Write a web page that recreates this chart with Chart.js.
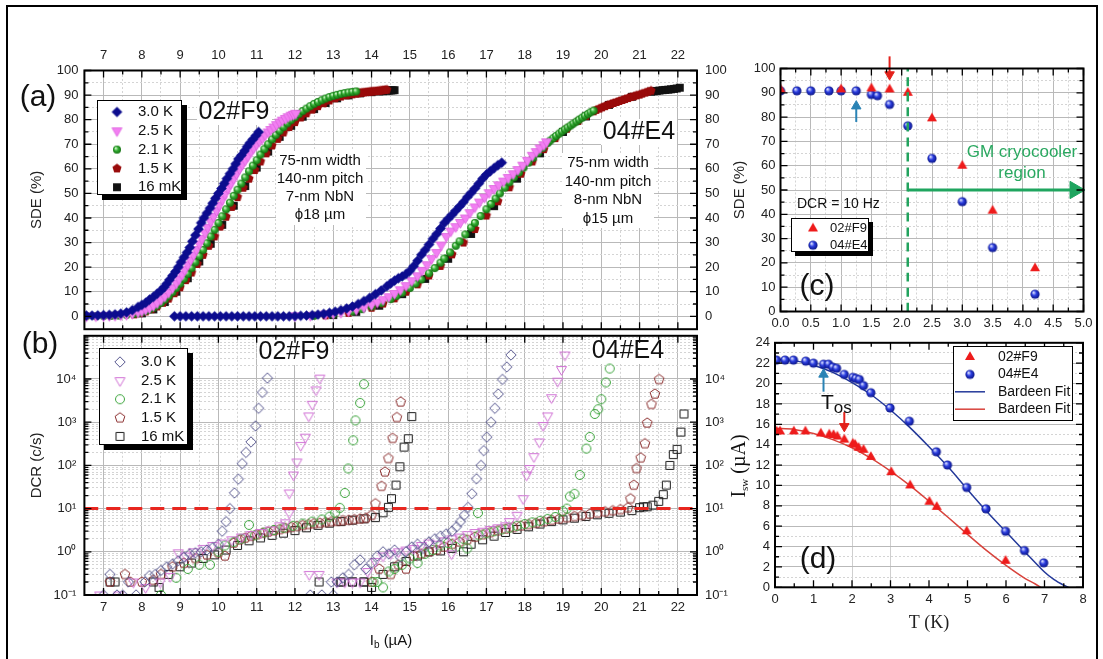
<!DOCTYPE html>
<html>
<head>
<meta charset="utf-8">
<script src="https://cdn.jsdelivr.net/npm/chart.js@4.4.1/dist/chart.umd.min.js"></script>
<style>
  body { margin: 0; background: #fff; width: 1103px; height: 659px; overflow: hidden; position: relative; }
  canvas { position: absolute; }
  #frame { position: absolute; left: 6px; top: 5px; width: 1088px; height: 680px; border: 2px solid #000; }
</style>
</head>
<body>
<div id="frame"></div>
<canvas id="ca" width="760" height="345" style="left:0px;top:0px"></canvas>
<canvas id="cb" width="760" height="339" style="left:0px;top:320px"></canvas>
<canvas id="cc" width="383" height="340" style="left:720px;top:0px"></canvas>
<canvas id="cd" width="383" height="329" style="left:720px;top:330px"></canvas>
<script>
const FONT = '"Liberation Sans", Arial, sans-serif';
const SERIF = '"Liberation Serif", "Times New Roman", serif';

// ---------- (a) SDE vs bias current, [Ib (uA), SDE (%)] ----------
const sdeF9_30K = [[6.55,0.3],[6.7,0.3],[6.85,0.4],[7.0,0.5],[7.15,0.6],[7.3,0.8],[7.45,1.1],[7.6,1.6],[7.75,2.5],[7.9,3.8],[8.0,4.6],[8.1,5.5],[8.2,6.8],[8.3,7.9],[8.4,9.2],[8.5,10.5],[8.58,11.8],[8.65,13.2],[8.72,14.8],[8.8,16.5],[8.88,18.2],[8.95,20],[9.02,22],[9.1,24],[9.18,26],[9.25,28],[9.32,30.5],[9.4,33],[9.48,35.5],[9.55,38],[9.62,40],[9.7,42],[9.78,44],[9.85,46],[9.92,48],[10.0,50],[10.08,52],[10.15,54],[10.22,56],[10.3,58],[10.38,60],[10.45,62],[10.52,64],[10.6,65.5],[10.68,67.3],[10.75,69],[10.82,70.5],[10.9,72],[10.98,73.5],[11.05,75]];
const sdeF9_25K = [[6.55,0.1],[6.8,0.15],[7.0,0.2],[7.15,0.3],[7.3,0.4],[7.45,0.6],[7.6,0.8],[7.75,1.2],[7.9,1.7],[8.0,2.2],[8.1,2.8],[8.2,3.5],[8.3,4.4],[8.4,5.5],[8.5,6.8],[8.6,8.2],[8.7,9.8],[8.8,11.6],[8.9,13.5],[8.97,15.2],[9.05,17],[9.12,19],[9.2,21],[9.27,23],[9.35,25],[9.42,27.2],[9.5,29.5],[9.57,31.7],[9.65,34],[9.72,36.2],[9.8,38.5],[9.87,40.7],[9.95,43],[10.02,45.2],[10.1,47.5],[10.17,49.7],[10.25,52],[10.32,54],[10.4,56],[10.47,58],[10.55,60],[10.62,61.8],[10.7,63.5],[10.77,65.2],[10.85,67],[10.92,68.5],[11.0,70],[11.07,71.3],[11.15,72.5],[11.22,73.8],[11.3,75],[11.37,76],[11.45,77],[11.52,78],[11.6,79],[11.67,79.8],[11.75,80.5],[11.82,81.2],[11.9,81.8],[11.96,82.2],[12.02,82.6]];
const sdeF9_21K = [[6.55,0.05],[6.8,0.08],[7.0,0.1],[7.2,0.2],[7.4,0.3],[7.6,0.6],[7.8,1],[7.9,1.3],[8.0,1.7],[8.1,2.2],[8.2,2.8],[8.3,3.5],[8.4,4.4],[8.5,5.5],[8.6,6.8],[8.7,8.2],[8.8,9.8],[8.9,11.5],[9.0,13.3],[9.1,15.3],[9.2,17.3],[9.3,19.6],[9.4,22],[9.5,24.5],[9.6,27],[9.7,29.7],[9.8,32.5],[9.9,35.2],[10.0,38],[10.1,40.7],[10.2,43.5],[10.3,46.2],[10.4,49],[10.5,51.5],[10.6,54],[10.7,56.5],[10.8,59],[10.9,61.3],[11.0,63.5],[11.1,65.8],[11.2,68],[11.3,70],[11.4,72],[11.5,73.8],[11.6,75.5],[11.7,77],[11.8,78.5],[11.9,79.8],[12.0,81],[12.1,82.3],[12.2,83.5],[12.3,84.5],[12.4,85.5],[12.5,86.4],[12.6,87.2],[12.7,87.9],[12.8,88.6],[12.9,89.2],[13.0,89.7],[13.1,90.1],[13.2,90.5],[13.3,90.8],[13.4,91.1],[13.5,91.3],[13.6,91.5]];
const sdeF9_15K = [[7.8,0.8],[7.95,1.3],[8.1,2],[8.25,2.9],[8.4,4],[8.55,5.5],[8.7,7.2],[8.85,9.4],[9.0,11.8],[9.15,14.7],[9.3,17.8],[9.45,21.3],[9.6,25],[9.75,28.7],[9.9,32.5],[10.05,36.5],[10.2,40.5],[10.35,44.5],[10.5,48.5],[10.65,52.3],[10.8,56],[10.95,59.5],[11.1,63],[11.25,66.3],[11.4,69.5],[11.55,72.2],[11.7,74.8],[11.85,77],[12.0,79],[12.15,80.9],[12.3,82.6],[12.45,84.1],[12.6,85.5],[12.75,86.7],[12.9,87.8],[13.05,88.7],[13.2,89.4],[13.35,89.9],[13.5,90.3],[13.6,90.6],[13.65,90.75],[13.7,90.9],[13.75,91],[13.8,91.1],[13.85,91.2],[13.9,91.3],[13.95,91.4],[14.0,91.5],[14.05,91.55],[14.1,91.6],[14.15,91.7],[14.2,91.8],[14.25,91.9],[14.3,92],[14.35,92.1],[14.4,92.2]];
const sdeF9_16mK = [[8.0,1.2],[8.3,2.8],[8.6,5.8],[8.9,10],[9.2,15.5],[9.5,22.3],[9.8,29.5],[10.1,37.2],[10.4,45],[10.7,53],[11.0,60.5],[11.3,67],[11.6,73],[11.9,77.5],[12.2,81.2],[12.5,84.3],[12.8,86.8],[13.1,88.7],[13.4,89.9],[13.7,90.7],[14.0,91.2],[14.2,91.5],[14.3,91.6],[14.4,91.8],[14.45,91.85],[14.5,91.9],[14.55,91.95],[14.6,92]];
const sdeE4_30K = [[8.85,0],[9.0,0],[9.15,0],[9.3,0],[9.45,0],[9.6,0],[9.75,0],[9.9,0],[10.05,0],[10.2,0],[10.35,0],[10.5,0],[10.65,0],[10.8,0],[10.95,0],[11.1,0],[11.25,0],[11.4,0],[11.55,0],[11.7,0],[11.85,0],[12.0,0.1],[12.15,0.2],[12.3,0.3],[12.45,0.5],[12.6,0.7],[12.75,1.0],[12.9,1.4],[13.05,1.9],[13.2,2.5],[13.35,3.2],[13.5,4.0],[13.65,5.0],[13.8,6.2],[13.95,7.5],[14.1,9],[14.25,10.5],[14.4,12.2],[14.5,13.4],[14.6,14.5],[14.7,15.5],[14.8,16.2],[14.9,17.2],[15.0,18.5],[15.1,20.4],[15.2,22.6],[15.3,25],[15.4,27],[15.5,29.2],[15.6,31.5],[15.7,33.5],[15.8,35.7],[15.9,38],[16.0,39.7],[16.1,41.3],[16.2,43],[16.3,44.7],[16.4,46.5],[16.5,48.5],[16.6,50.2],[16.7,52],[16.8,54],[16.9,56],[17.0,57.7],[17.1,59],[17.2,60.3],[17.3,61.5],[17.4,62.5]];
const sdeE4_25K = [[12.0,0.2],[12.4,0.4],[12.8,0.9],[13.0,1.2],[13.2,1.6],[13.4,2.2],[13.6,2.8],[13.8,3.7],[14.0,4.8],[14.15,5.8],[14.3,6.8],[14.45,8],[14.6,9.3],[14.75,10.8],[14.9,12.5],[15.05,14.5],[15.2,16.5],[15.32,18.7],[15.45,21],[15.57,23.5],[15.7,26],[15.82,29],[15.95,32.5],[16.07,34.7],[16.2,36.5],[16.32,38.2],[16.45,40],[16.57,42.2],[16.7,44.5],[16.82,46.5],[16.95,48.5],[17.07,50.3],[17.2,52],[17.32,53.5],[17.45,55],[17.57,56.5],[17.7,58],[17.82,59.7],[17.95,61.5],[18.07,63.5],[18.2,65.5],[18.3,67],[18.4,68.5],[18.5,69.8],[18.57,71]];
const sdeE4_21K = [[12.5,0.2],[13.0,0.8],[13.5,2],[13.75,2.9],[14.0,4],[14.25,5.4],[14.5,7],[14.65,8.3],[14.8,9.6],[15.0,11.5],[15.15,13.3],[15.3,15],[15.5,17.5],[15.65,19.6],[15.8,21.8],[15.9,23.5],[16.05,26],[16.2,28.7],[16.3,30.5],[16.45,33.3],[16.6,36.1],[16.7,38],[16.85,40.8],[17.0,43.5],[17.12,45.7],[17.24,47.9],[17.35,50],[17.48,52.3],[17.6,54.5],[17.72,56.5],[17.85,58.5],[17.97,60.5],[18.1,62.5],[18.22,64.5],[18.35,66.5],[18.47,68.5],[18.6,70.5],[18.67,71.5],[18.75,72.5],[18.82,73.4],[18.9,74.3],[18.97,75.2],[19.05,76],[19.12,76.8],[19.2,77.6],[19.27,78.4],[19.35,79.2],[19.42,80],[19.5,80.8],[19.57,81.6],[19.65,82.3],[19.72,83],[19.8,83.7]];
const sdeE4_15K = [[12.8,0.4],[13.4,1.4],[14.0,3.5],[14.3,5.2],[14.6,7.3],[14.9,10],[15.2,13],[15.5,16.6],[15.8,20.5],[16.1,25.2],[16.4,30],[16.7,35.5],[17.0,41],[17.3,46.8],[17.6,52.5],[17.9,58],[18.2,63],[18.5,68],[18.8,72.5],[19.1,76.3],[19.4,79.5],[19.6,81.5],[19.8,83.4],[19.87,84],[19.95,84.5],[20.02,85],[20.1,85.5],[20.17,86],[20.25,86.4],[20.32,86.8],[20.4,87.2],[20.47,87.6],[20.55,88],[20.62,88.4],[20.7,88.8],[20.77,89.2],[20.85,89.5],[20.92,89.9],[21.0,90.2],[21.07,90.6],[21.15,91],[21.22,91.4],[21.3,91.8]];
const sdeE4_16mK = [[13.0,0.5],[13.6,1.8],[14.2,4.3],[14.8,9],[15.4,15.2],[16.0,23.4],[16.6,33.5],[17.2,44.8],[17.8,56],[18.4,66.3],[19.0,75],[19.6,81.3],[20.2,86],[20.8,89.3],[21.3,91.4],[21.37,91.55],[21.45,91.7],[21.52,91.85],[21.6,92],[21.67,92.1],[21.75,92.2],[21.82,92.35],[21.9,92.5],[21.97,92.7],[22.05,93]];

// ---------- (b) dark count rate vs bias current, [Ib (uA), DCR (c/s)] ----------
const dcrF9_30K = [[7.0,0.1],[7.17,0.3],[7.35,0.1],[7.5,0.1],[7.65,0.2],[7.85,0.1],[8.08,0.2],[8.2,0.28],[8.35,0.3],[8.5,0.37],[8.65,0.45],[8.8,0.52],[8.95,0.62],[9.1,0.75],[9.25,0.9],[9.4,0.95],[9.55,1.0],[9.7,1.1],[9.85,1.25],[10.0,1.5],[10.1,3],[10.2,5],[10.3,10],[10.42,23],[10.52,48],[10.62,110],[10.72,200],[10.85,350],[10.97,820],[11.05,2100],[11.15,4900],[11.28,10500]];
const dcrF9_25K = [[6.9,0.1],[7.4,0.1],[7.78,0.2],[8.1,0.15],[8.48,0.2],[8.74,0.27],[8.95,0.95],[9.15,0.8],[9.35,1.0],[9.6,1.2],[9.85,1.4],[10.1,1.6],[10.35,1.9],[10.6,2.2],[10.85,2.5],[11.1,2.8],[11.35,3.2],[11.6,4.0],[11.75,4.7],[11.85,8],[11.85,23],[11.96,60],[12.05,120],[12.15,290],[12.27,450],[12.36,1400],[12.45,2600],[12.55,5600],[12.65,10500],[12.37,0.3],[12.63,0.3]];
const dcrF9_21K = [[8.5,0.1],[8.9,0.25],[9.2,0.4],[9.5,0.5],[9.78,0.5],[10.0,1.0],[10.17,1.4],[10.4,1.7],[10.6,2.0],[10.8,4.2],[10.95,2.4],[11.2,2.8],[11.45,3.2],[11.7,3.6],[11.95,4.0],[12.2,4.5],[12.45,5.0],[12.7,5.6],[12.9,6.5],[13.05,8],[13.17,10.4],[13.3,23],[13.39,85],[13.52,380],[13.58,1100],[13.7,2800],[13.8,7600]];
const dcrF9_15K = [[7.17,0.2],[7.56,0.3],[7.7,0.2],[8.0,0.2],[8.3,0.22],[8.5,0.3],[8.8,0.45],[9.1,0.55],[9.4,0.7],[9.7,0.85],[10.0,0.95],[10.17,0.8],[10.4,1.6],[10.55,1.9],[10.7,2.1],[10.85,2.3],[11.0,2.5],[11.15,2.7],[11.3,2.9],[11.45,3.1],[11.6,3.3],[11.75,3.5],[11.9,3.7],[12.05,3.9],[12.2,4.1],[12.35,4.3],[12.5,4.5],[12.65,4.6],[12.8,4.8],[12.95,5.0],[13.1,5.1],[13.25,5.3],[13.4,5.4],[13.55,5.6],[13.7,5.8],[13.85,6.0],[14.0,7.0],[14.1,13],[14.26,33],[14.35,71],[14.44,145],[14.55,425],[14.66,1290],[14.76,2950]];
const dcrF9_16mK = [[7.17,0.2],[7.3,0.2],[8.3,0.2],[8.45,0.15],[8.7,0.3],[9.0,0.45],[9.3,0.55],[9.6,0.7],[9.9,0.85],[10.2,1.1],[10.5,1.4],[10.8,1.8],[11.1,2.1],[11.4,2.4],[11.7,2.7],[12.0,3.1],[12.3,3.6],[12.6,4.1],[12.9,4.6],[13.2,5.0],[13.5,5.4],[13.8,5.8],[14.1,6.2],[14.3,8],[14.44,10.7],[14.52,17],[14.64,35],[14.74,93],[14.85,265],[14.96,415],[15.05,1350],[12.63,0.2],[13.2,0.2],[13.5,0.2],[13.8,0.2]];
const dcrE4_30K = [[12.4,0.1],[12.7,0.1],[13.0,0.1],[12.95,0.2],[13.1,0.2],[13.25,0.25],[13.4,0.3],[13.55,0.5],[13.7,0.65],[13.85,0.4],[14.0,0.55],[14.15,0.8],[14.3,1.0],[14.45,0.9],[14.6,1.1],[14.75,0.75],[14.9,1.0],[15.05,1.3],[15.2,1.5],[15.35,1.2],[15.5,1.7],[15.65,2.0],[15.8,2.3],[15.95,2.6],[16.1,3.0],[16.22,3.8],[16.32,5],[16.42,7],[16.52,10.7],[16.62,22],[16.74,49],[16.86,100],[16.93,220],[17.01,450],[17.12,1000],[17.22,2100],[17.31,4500],[17.42,9800],[17.53,19000],[17.64,36000]];
const dcrE4_25K = [[13.1,0.2],[13.3,0.2],[13.5,0.2],[13.7,0.2],[13.9,0.35],[14.1,0.6],[14.3,0.8],[14.5,0.9],[14.7,1.0],[14.9,1.1],[15.1,1.2],[15.3,1.4],[15.5,1.6],[15.7,1.5],[15.9,1.8],[16.09,0.9],[16.1,2.0],[16.3,2.2],[16.5,2.5],[16.7,2.8],[16.9,3.0],[17.1,3.3],[17.3,3.6],[17.5,4.0],[17.6,5],[17.8,7],[17.96,17],[18.05,60],[18.13,85],[18.24,160],[18.38,350],[18.48,840],[18.6,1400],[18.7,3700],[18.86,8900],[18.96,16600],[19.05,36000]];
const dcrE4_21K = [[14.05,0.2],[14.15,0.2],[14.3,0.15],[14.45,0.35],[14.6,0.4],[14.8,0.5],[15.0,0.7],[15.2,0.55],[15.4,0.9],[15.6,1.1],[15.8,1.4],[16.0,1.6],[16.2,1.3],[16.4,2.0],[16.5,1.2],[16.78,7.9],[16.8,2.4],[17.0,2.7],[17.2,3.0],[17.4,3.3],[17.6,3.6],[17.8,4.0],[18.0,4.4],[18.2,4.8],[18.4,5.2],[18.6,5.8],[18.8,6.4],[19.0,8.7],[19.1,10],[19.18,19],[19.3,22],[19.44,60],[19.61,245],[19.7,455],[19.83,1550],[19.92,2000],[20.0,3400],[20.12,8300],[20.22,17500]];
const dcrE4_15K = [[14.0,0.2],[14.2,0.4],[14.5,0.3],[14.7,0.5],[14.9,0.4],[15.1,0.8],[15.3,0.9],[15.5,1.0],[15.7,1.1],[15.9,1.3],[16.1,1.5],[16.3,1.7],[16.5,1.9],[16.7,2.2],[16.9,2.5],[17.1,2.8],[17.3,3.1],[17.5,3.4],[17.7,3.7],[17.9,4.0],[18.1,4.3],[18.3,4.6],[18.5,5.0],[18.7,5.4],[18.9,5.8],[19.1,6.2],[19.3,6.6],[19.5,7.0],[19.7,7.5],[19.9,8.0],[20.1,8.5],[20.3,9.0],[20.5,9.5],[20.7,10.5],[20.76,17],[20.85,35],[20.92,85],[21.03,150],[21.14,320],[21.2,960],[21.31,2600],[21.4,4500],[21.51,9800]];
const dcrE4_16mK = [[13.2,0.2],[13.5,0.2],[13.8,0.2],[14.0,0.15],[14.3,0.3],[14.6,0.45],[14.9,0.6],[15.2,0.8],[15.5,1.0],[15.8,1.05],[16.1,1.2],[16.4,1.0],[16.6,1.5],[16.9,1.9],[17.2,2.3],[17.5,2.8],[17.8,3.3],[18.1,3.8],[18.4,4.4],[18.7,5.0],[19.0,5.5],[19.3,6.0],[19.6,6.6],[19.9,7.2],[20.2,7.8],[20.5,8.3],[20.8,9.0],[21.0,10.5],[21.1,11],[21.2,11],[21.35,12],[21.5,14.7],[21.62,21],[21.7,35],[21.79,100],[21.88,178],[21.98,235],[22.08,590],[22.16,1550]];

// ---------- (c) SDE at DCR = 10 Hz vs temperature ----------
const tcF9 = [0, 1.0, 1.5, 1.8, 2.1, 2.5, 3.0, 3.5, 4.2];
const sdeTF9 = [91.4, 91.4, 91.8, 91.4, 90, 79.5, 60, 41.5, 17.8];
const tcE4 = [0, 0.27, 0.5, 0.8, 1.0, 1.25, 1.5, 1.6, 1.8, 2.1, 2.5, 3.0, 3.5, 4.2];
const sdeTE4 = [90.8, 90.8, 90.8, 90.8, 90.8, 90.8, 89.3, 88.8, 85.2, 76.4, 63, 45.2, 26.3, 7.1];

// ---------- (d) switching current vs temperature ----------
const tdE4 = [0.04,0.26,0.48,0.8,1.0,1.26,1.39,1.5,1.6,1.8,2.02,2.1,2.19,2.3,2.49,2.99,3.49,4.19,4.48,4.98,5.48,5.99,6.48,6.98];
const iswE4 = [22.3,22.3,22.3,22.2,22.0,21.9,21.9,21.6,21.5,20.9,20.6,20.5,20.4,19.8,19.1,17.6,16.3,13.3,12.0,9.8,7.7,5.5,3.6,2.4];
const tdF9 = [0.04,0.13,0.49,0.79,1.19,1.41,1.52,1.62,1.8,2.02,2.08,2.17,2.3,2.49,3.02,3.51,4.01,4.2,4.98,5.99];
const iswF9 = [15.3,15.3,15.3,15.3,15.1,15.0,14.95,14.8,14.5,14.1,14.0,13.7,13.5,12.8,11.3,10.0,8.4,7.9,5.5,2.6];
const fitE4 = [[0,22.4],[0.5,22.25],[1,21.8],[1.5,21.1],[2,20.1],[2.5,18.9],[3,17.4],[3.5,15.7],[4,13.8],[4.5,11.8],[5,9.6],[5.5,7.45],[6,5.45],[6.5,3.45],[7,1.5],[7.25,0.75],[7.5,0.2],[7.62,0]];
const fitF9 = [[0,15.6],[0.5,15.5],[1,15.1],[1.5,14.5],[2,13.7],[2.5,12.65],[3,11.4],[3.5,10.0],[4,8.45],[4.5,6.85],[5,5.2],[5.5,3.6],[6,2.15],[6.5,0.85],[6.75,0.35],[6.9,0]];

// tick labels
const ibTicks = [7,8,9,10,11,12,13,14,15,16,17,18,19,20,21,22];
const sdeTicks = [0,10,20,30,40,50,60,70,80,90,100];
const dcrLabels = ['10⁻¹','10⁰','10¹','10²','10³','10⁴'];
const tcTicks = ['0.0','0.5','1.0','1.5','2.0','2.5','3.0','3.5','4.0','4.5','5.0'];
const tdTicks = [0,1,2,3,4,5,6,7,8];
const iswTicks = [0,2,4,6,8,10,12,14,16,18,20,22,24];

// guide lines and arrows (data coordinates)
const dcrLimit = [[6.5,10],[22.5,10]];
const gmLine = [[2.1,0],[2.1,100]];
const gmArrow = [[2.1,50],[4.86,50]];
const osF9c = [[1.8,105],[1.8,97.5]];
const osE4c = [[1.25,78],[1.25,84.5]];
const osE4d = [[1.26,19.2],[1.26,20.9]];
const osF9d = [[1.8,17.2],[1.8,15.8]];

// ---------- markers ----------
function mark(shape, r, fill, stroke, lw) {
  const size = Math.ceil(2 * r + (lw || 0)) + 2;
  const c = document.createElement('canvas');
  c.width = c.height = size;
  const g = c.getContext('2d');
  const m = size / 2;
  g.beginPath();
  if (shape === 'circle') {
    g.arc(m, m, r, 0, 2 * Math.PI);
  } else {
    const n = shape === 'pent' ? 5 : (shape === 'diamond' || shape === 'square' ? 4 : 3);
    const a0 = shape === 'square' ? -Math.PI * 3 / 4 : (shape === 'tridown' ? Math.PI / 2 : -Math.PI / 2);
    for (let k = 0; k < n; k++) {
      const a = a0 + k * 2 * Math.PI / n;
      if (k) g.lineTo(m + r * Math.cos(a), m + r * Math.sin(a));
      else g.moveTo(m + r * Math.cos(a), m + r * Math.sin(a));
    }
    g.closePath();
  }
  if (fill) { g.fillStyle = fill; g.fill(); }
  if (stroke) { g.lineWidth = lw; g.strokeStyle = stroke; g.stroke(); }
  return c;
}
function ball(r, c0, c1, c2) {
  const size = Math.ceil(2 * r) + 2;
  const c = document.createElement('canvas');
  c.width = c.height = size;
  const g = c.getContext('2d');
  const m = size / 2;
  const gr = g.createRadialGradient(m - r * 0.35, m - r * 0.4, r * 0.1, m, m, r);
  gr.addColorStop(0, c0); gr.addColorStop(0.45, c1); gr.addColorStop(1, c2);
  g.fillStyle = gr;
  g.beginPath(); g.arc(m, m, r, 0, 2 * Math.PI); g.fill();
  return c;
}
const M = {
  navy: mark('diamond', 5.3, '#0c0c8e'),
  pink: mark('tridown', 5.8, '#f27ff2', '#dc5fdc', 0.8),
  green: ball(4, '#d4f7cc', '#35b035', '#11700f'),
  red: mark('pent', 4.8, '#990b0b'),
  black: mark('square', 5.6, '#111111'),
  oDia: mark('diamond', 5.2, null, '#55558e', 1),
  oTri: mark('tridown', 5.8, null, '#d070d4', 1),
  oCir: mark('circle', 4.5, null, '#3aa43a', 1),
  oPen: mark('pent', 5.1, null, '#8b2e2e', 1),
  oSq: mark('square', 5.6, null, '#1a1a1a', 1),
  rTri: mark('tri', 5.8, '#ee1b1b'),
  bBall: ball(4.6, '#d8ddff', '#2b3de0', '#0b1585')
};

// ---------- decorations: frame, inward ticks, texts, legends ----------
const decoCfg = {};
function drawText(ctx, t, o) {
  const parts = t.parts || [{ t: t.t, s: t.s }];
  const fam = t.f || FONT;
  ctx.save();
  ctx.translate(t.x - o.ox, t.y - o.oy);
  if (t.rot) ctx.rotate(t.rot);
  ctx.textBaseline = 'middle';
  ctx.textAlign = 'left';
  ctx.fillStyle = t.c || '#111';
  let w = 0;
  parts.forEach(p => { ctx.font = p.s + 'px ' + fam; w += ctx.measureText(p.t).width; });
  let x = t.align === 'left' ? 0 : -w / 2;
  parts.forEach(p => {
    ctx.font = p.s + 'px ' + fam;
    ctx.fillText(p.t, x, p.dy || 0);
    x += ctx.measureText(p.t).width;
  });
  ctx.restore();
}
function drawLegend(ctx, L, o) {
  const x = L.x - o.ox, y = L.y - o.oy;
  if (L.sh) { ctx.fillStyle = '#000'; ctx.fillRect(x + L.sh, y + L.sh, L.w, L.h); }
  ctx.fillStyle = '#fff';
  ctx.fillRect(x, y, L.w, L.h);
  ctx.strokeStyle = '#000';
  ctx.lineWidth = 1;
  ctx.strokeRect(x + 0.5, y + 0.5, L.w - 1, L.h - 1);
  ctx.font = L.s + 'px ' + FONT;
  ctx.textBaseline = 'middle';
  ctx.textAlign = 'left';
  L.rows.forEach((r, i) => {
    const cy = L.y0 - o.oy + i * L.dy, cx = L.mx - o.ox;
    if (r.m) {
      ctx.drawImage(r.m, cx - r.m.width / 2, cy - r.m.height / 2);
    } else {
      ctx.strokeStyle = r.ln; ctx.lineWidth = 1.5;
      ctx.beginPath(); ctx.moveTo(cx - 15, cy); ctx.lineTo(cx + 15, cy); ctx.stroke();
    }
    ctx.fillStyle = '#111';
    ctx.fillText(r.t, L.tx - o.ox, cy);
  });
}
const deco = {
  id: 'deco',
  beforeDatasetsDraw(chart) {
    const o = decoCfg[chart.canvas.id];
    if (!o || !o.bgs) return;
    const ctx = chart.ctx;
    ctx.save();
    ctx.fillStyle = '#fff';
    o.bgs.forEach(b => ctx.fillRect(b[0] - o.ox, b[1] - o.oy, b[2], b[3]));
    ctx.restore();
  },
  afterDraw(chart) {
    const o = decoCfg[chart.canvas.id];
    const ctx = chart.ctx, a = chart.chartArea;
    ctx.save();
    ctx.strokeStyle = '#000';
    ctx.lineWidth = 1.3;
    ['x', 'y'].forEach(id => {
      const s = chart.scales[id];
      s.ticks.forEach(t => {
        const p = s.getPixelForValue(t.value);
        const len = t.lab ? 7 : 4;
        ctx.beginPath();
        if (s.isHorizontal()) {
          ctx.moveTo(p, a.top); ctx.lineTo(p, a.top + len);
          ctx.moveTo(p, a.bottom); ctx.lineTo(p, a.bottom - len);
        } else {
          ctx.moveTo(a.left, p); ctx.lineTo(a.left + len, p);
          ctx.moveTo(a.right, p); ctx.lineTo(a.right - len, p);
        }
        ctx.stroke();
      });
    });
    ctx.lineWidth = 2;
    ctx.strokeRect(a.left, a.top, a.right - a.left, a.bottom - a.top);
    (o.texts || []).forEach(t => drawText(ctx, t, o));
    if (o.legend) drawLegend(ctx, o.legend, o);
    ctx.restore();
  }
};
Chart.register(deco);

// ---------- scales ----------
function axis(o) {
  const horiz = o.pos === 'top' || o.pos === 'bottom';
  return {
    type: o.type || 'linear',
    position: o.pos,
    min: o.min,
    max: o.max,
    afterBuildTicks: s => { s.ticks = o.list.map(t => ({ value: t[0], lab: t[1] })); },
    afterFit: s => { if (horiz) s.height = o.size; else s.width = o.size; },
    ticks: {
      autoSkip: false, maxRotation: 0, minRotation: 0,
      padding: o.pad, color: '#222', font: { family: FONT, size: 13 },
      callback: (v, i, ts) => ts[i].lab
    },
    grid: {
      drawTicks: false,
      drawOnChartArea: !o.noGrid,
      lineWidth: 1,
      color: o.gridColor || (c => (c.tick && c.tick.lab ? '#b9b9b9' : '#d4d4d4'))
    },
    border: { display: false, dash: c => (c.tick && !c.tick.lab ? [2, 2] : []) },
    title: o.title
      ? { display: true, text: o.title, color: '#222', font: { family: o.tfont || FONT, size: o.tsize || 15 }, padding: { top: o.tpad, bottom: o.tpad } }
      : { display: false }
  };
}

const ibList = [];
for (let v = 7; v <= 22; v += 0.5) ibList.push([v, ibTicks.includes(v) ? String(v) : '']);
const sdeList = [];
for (let v = 0; v <= 100; v += 5) sdeList.push([v, sdeTicks.includes(v) ? String(v) : '']);
const dcrList = [];
for (let e = -1; e <= 4; e++) {
  for (let m = 1; m <= 9; m++) dcrList.push([m * Math.pow(10, e), m === 1 ? dcrLabels[e + 1] : '']);
}
dcrList.push([100000, '']);
const tcList = [];
for (let k = 0; k <= 20; k++) tcList.push([k * 0.25, k % 2 === 0 ? tcTicks[k / 2] : '']);
const tdList = [];
for (let k = 0; k <= 16; k++) tdList.push([k * 0.5, k % 2 === 0 ? String(tdTicks[k / 2]) : '']);
const iswList = [];
for (let v = 0; v <= 24; v++) iswList.push([v, iswTicks.includes(v) ? String(v) : '']);

// ---------- dataset helpers ----------
function pts(arr, img, clip) {
  const d = { data: arr.map(p => ({ x: p[0], y: p[1] })), pointStyle: img, pointRadius: 5, showLine: false };
  if (clip !== undefined) d.clip = clip;
  return d;
}
function pts2(xs, ys, img) {
  return { data: xs.map((x, i) => ({ x: x, y: ys[i] })), pointStyle: img, pointRadius: 5, showLine: false };
}
function seg(arr, color, width, dash, clip) {
  return {
    data: arr.map(p => ({ x: p[0], y: p[1] })), showLine: true, borderColor: color,
    borderWidth: width, borderDash: dash || [], pointRadius: 0, tension: 0.3,
    clip: clip === undefined ? false : clip
  };
}
function head(p, color, r, rot) {
  return {
    data: [{ x: p[0], y: p[1] }], pointStyle: 'triangle', pointRotation: rot, pointRadius: r,
    pointBackgroundColor: color, pointBorderColor: color, pointBorderWidth: 1, clip: false
  };
}
function makeChart(id, datasets, padding, scales) {
  return new Chart(document.getElementById(id), {
    type: 'scatter',
    data: { datasets: datasets },
    options: {
      responsive: false, animation: false, events: [],
      layout: { padding: padding },
      plugins: { legend: { display: false }, tooltip: { enabled: false } },
      scales: scales
    }
  });
}

// ---------- (a) ----------
decoCfg.ca = {
  ox: 0, oy: 0,
  bgs: [[197, 99, 75, 26], [276, 151, 90, 74], [601, 119, 76, 26], [562, 153, 92, 75]],
  texts: [
    { x: 38, y: 98, t: '(a)', s: 30 },
    { x: 234, y: 112, t: '02#F9', s: 25 },
    { x: 320, y: 161, t: '75-nm width', s: 15 },
    { x: 320, y: 179, t: '140-nm pitch', s: 15 },
    { x: 320, y: 197, t: '7-nm NbN', s: 15 },
    { x: 320, y: 215, t: 'ϕ18 µm', s: 15 },
    { x: 639, y: 132, t: '04#E4', s: 25 },
    { x: 608, y: 163, t: '75-nm width', s: 15 },
    { x: 608, y: 181.5, t: '140-nm pitch', s: 15 },
    { x: 608, y: 200, t: '8-nm NbN', s: 15 },
    { x: 608, y: 218.5, t: 'ϕ15 µm', s: 15 }
  ],
  legend: {
    x: 97, y: 100, w: 85, h: 95, sh: 5, mx: 117, tx: 138, y0: 112, dy: 18.8, s: 15,
    rows: [{ m: M.navy, t: '3.0 K' }, { m: M.pink, t: '2.5 K' }, { m: M.green, t: '2.1 K' }, { m: M.red, t: '1.5 K' }, { m: M.black, t: '16 mK' }]
  }
};
makeChart('ca', [
  pts(sdeF9_30K, M.navy), pts(sdeE4_30K, M.navy),
  pts(sdeF9_25K, M.pink), pts(sdeE4_25K, M.pink),
  pts(sdeF9_21K, M.green), pts(sdeE4_21K, M.green),
  pts(sdeF9_15K, M.red), pts(sdeE4_15K, M.red),
  pts(sdeF9_16mK, M.black), pts(sdeE4_16mK, M.black)
], { left: 0, top: 0, right: 0, bottom: 14 }, {
  x: axis({ pos: 'top', min: 6.5, max: 22.5, list: ibList, size: 70.5, pad: 7 }),
  y: axis({ pos: 'left', min: -5.25, max: 100, list: sdeList, size: 84.4, pad: 6, title: 'SDE (%)', tpad: 28 }),
  y2: axis({ pos: 'right', min: -5.25, max: 100, list: sdeList, size: 63, pad: 8, noGrid: true })
});

// ---------- (b) ----------
decoCfg.cb = {
  ox: 0, oy: 320,
  bgs: [[257, 339, 74, 26], [591, 338, 74, 26]],
  texts: [
    { x: 40, y: 345, t: '(b)', s: 30 },
    { x: 294, y: 352, t: '02#F9', s: 25 },
    { x: 628, y: 351, t: '04#E4', s: 25 },
    { x: 391, y: 641, parts: [{ t: 'I', s: 15 }, { t: 'b', s: 10, dy: 4 }, { t: ' (µA)', s: 15 }] }
  ],
  legend: {
    x: 99, y: 348, w: 89, h: 97, sh: 5, mx: 120, tx: 141, y0: 362, dy: 18.6, s: 15,
    rows: [{ m: M.oDia, t: '3.0 K' }, { m: M.oTri, t: '2.5 K' }, { m: M.oCir, t: '2.1 K' }, { m: M.oPen, t: '1.5 K' }, { m: M.oSq, t: '16 mK' }]
  }
};
makeChart('cb', [
  seg(dcrLimit, '#e8261f', 3, [14, 8], 0),
  pts(dcrF9_30K, M.oDia, 0), pts(dcrE4_30K, M.oDia, 0),
  pts(dcrF9_25K, M.oTri, 0), pts(dcrE4_25K, M.oTri, 0),
  pts(dcrF9_21K, M.oCir, 0), pts(dcrE4_21K, M.oCir, 0),
  pts(dcrF9_15K, M.oPen, 0), pts(dcrE4_15K, M.oPen, 0),
  pts(dcrF9_16mK, M.oSq, 0), pts(dcrE4_16mK, M.oSq, 0)
], { left: 0, top: 11, right: 0, bottom: 0 }, {
  x: axis({ pos: 'bottom', min: 6.5, max: 22.5, list: ibList, size: 64, pad: 5 }),
  y: axis({ type: 'logarithmic', pos: 'left', min: 0.1, max: 100000, list: dcrList, size: 84.4, pad: 8, title: 'DCR (c/s)', tpad: 28 }),
  y2: axis({ type: 'logarithmic', pos: 'right', min: 0.1, max: 100000, list: dcrList, size: 63, pad: 8, noGrid: true })
});

// ---------- (c) ----------
decoCfg.cc = {
  ox: 720, oy: 0,
  texts: [
    { x: 817, y: 287, t: '(c)', s: 30 },
    { x: 797, y: 204, t: 'DCR = 10 Hz', s: 14, align: 'left' },
    { x: 1022, y: 152, t: 'GM cryocooler', s: 17, c: '#2aa860' },
    { x: 1022, y: 173, t: 'region', s: 17, c: '#2aa860' }
  ],
  legend: {
    x: 791, y: 218, w: 78, h: 34, sh: 4, mx: 813, tx: 830, y0: 228.5, dy: 16.7, s: 13,
    rows: [{ m: M.rTri, t: '02#F9' }, { m: M.bBall, t: '04#E4' }]
  }
};
makeChart('cc', [
  seg(gmLine, '#22a35e', 2.5, [9, 6]),
  seg(gmArrow, '#1fa55f', 3),
  head(gmArrow[1], '#1fa55f', 10, 90),
  seg(osF9c, '#e3211b', 2), head(osF9c[1], '#e3211b', 5.5, 180),
  seg(osE4c, '#2a83b5', 2), head(osE4c[1], '#2a83b5', 5.5, 0),
  pts2(tcF9, sdeTF9, M.rTri),
  pts2(tcE4, sdeTE4, M.bBall)
], { left: 0, top: 68.5, right: 19.5, bottom: 0 }, {
  x: axis({ pos: 'bottom', min: 0, max: 5, list: tcList, size: 28.5, pad: 4 }),
  y: axis({ pos: 'left', min: 0, max: 100, list: sdeList, size: 60.5, pad: 5, title: 'SDE (%)', tpad: 11 })
});

// ---------- (d) ----------
decoCfg.cd = {
  ox: 720, oy: 330,
  texts: [
    { x: 818, y: 560, t: '(d)', s: 30 },
    { x: 821, y: 403, align: 'left', parts: [{ t: 'T', s: 21 }, { t: 'os', s: 17, dy: 5 }] },
    { x: 740, y: 466, rot: -Math.PI / 2, f: SERIF, parts: [{ t: 'I', s: 20 }, { t: 'sw', s: 11, dy: 5 }, { t: ' (µA)', s: 20 }] }
  ],
  legend: {
    x: 953, y: 346, w: 120, h: 75, sh: 0, mx: 970, tx: 998, y0: 357, dy: 17.4, s: 14,
    rows: [{ m: M.rTri, t: '02#F9' }, { m: M.bBall, t: '04#E4' }, { ln: '#24399a', t: 'Bardeen Fit' }, { ln: '#d8433c', t: 'Bardeen Fit' }]
  }
};
makeChart('cd', [
  seg(osE4d, '#2a83b5', 2), head(osE4d[1], '#2a83b5', 5.5, 0),
  seg(osF9d, '#e3211b', 2), head(osF9d[1], '#e3211b', 5.5, 180),
  pts2(tdF9, iswF9, M.rTri),
  pts2(tdE4, iswE4, M.bBall),
  seg(fitE4, '#24399a', 1.5, [], 0),
  seg(fitF9, '#d8433c', 1.5, [], 0)
], { left: 0, top: 11.7, right: 20, bottom: 0 }, {
  x: axis({
    pos: 'bottom', min: 0, max: 8, list: tdList, size: 71.7, pad: 4,
    title: 'T (K)', tfont: SERIF, tsize: 18, tpad: 25,
    gridColor: c => (c.tick && (c.tick.value === 2 || c.tick.value === 3) ? '#cfcfcf' : 'rgba(0,0,0,0)')
  }),
  y: axis({ pos: 'left', min: 0, max: 24, list: iswList, size: 55, pad: 5 })
});
</script>
</body>
</html>
